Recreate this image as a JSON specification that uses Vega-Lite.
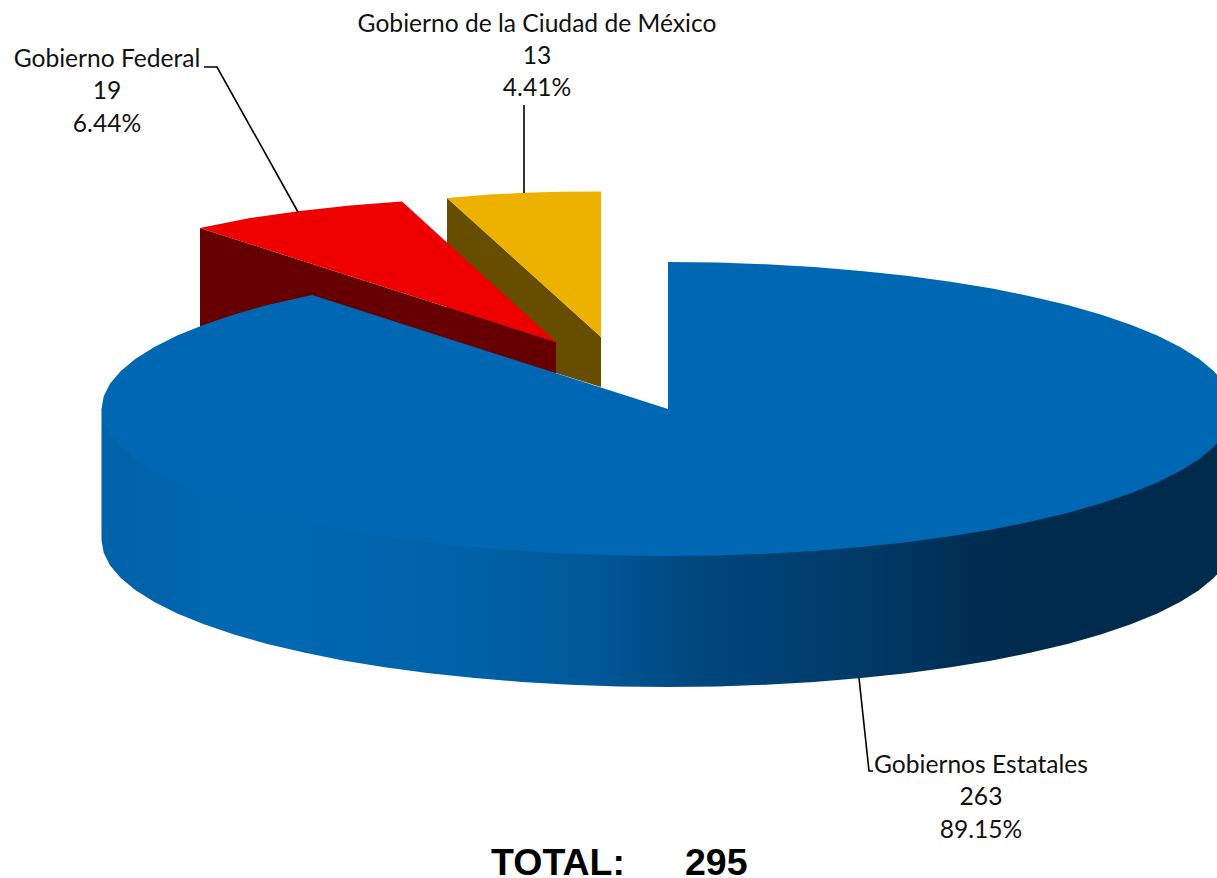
{
"$schema":"https://vega.github.io/schema/vega-lite/v6.json",
"width":1217,"height":878,"padding":0,"autosize":{"type":"none"},
"background":"white",
"config":{"view":{"stroke":null}},
"datasets":{
"yellowSide":[{"x":447,"y":198},{"x":601,"y":337},{"x":601,"y":387},{"x":556,"y":373},{"x":447,"y":340}],
"yellowTop":[{"x":447,"y":198},{"x":490,"y":194.5},{"x":525,"y":192.8},{"x":560,"y":191.8},{"x":601,"y":191.5},{"x":601,"y":337}],
"redSide":[{"x":200,"y":228},{"x":556,"y":342},{"x":556,"y":373},{"x":200,"y":330}],
"redTop":[{"x":200,"y":228},{"x":250,"y":218},{"x":300,"y":211},{"x":350,"y":205.5},{"x":402,"y":201.5},{"x":556,"y":342}],
"blueSide":[{"x":1233,"y":409},{"x":101.5,"y":409},{"x":101.5,"y":540},{"x":103.7,"y":552.8},{"x":110.1,"y":565.5},{"x":120.8,"y":578},{"x":135.6,"y":590.3},{"x":154.4,"y":602.1},{"x":177.2,"y":613.5},{"x":204,"y":624.3},{"x":234,"y":634.5},{"x":267.3,"y":643.9},{"x":304,"y":652.6},{"x":343.1,"y":660.4},{"x":384.7,"y":667.3},{"x":429.2,"y":673.2},{"x":474.8,"y":678.1},{"x":521.8,"y":682},{"x":569.9,"y":684.8},{"x":618.8,"y":686.4},{"x":668,"y":687},{"x":717.2,"y":686.4},{"x":766.1,"y":684.8},{"x":814.2,"y":682},{"x":861.2,"y":678.1},{"x":906.8,"y":673.2},{"x":950.5,"y":667.3},{"x":992.1,"y":660.4},{"x":1031.2,"y":652.6},{"x":1067.5,"y":643.9},{"x":1100.8,"y":634.5},{"x":1130.8,"y":624.3},{"x":1157.3,"y":613.5},{"x":1180.1,"y":602.1},{"x":1198.9,"y":590.3},{"x":1213.7,"y":578},{"x":1224.4,"y":565.5},{"x":1230.8,"y":552.8},{"x":1233,"y":540}],
"blueTop":[{"x":668,"y":262},{"x":717.2,"y":262.6},{"x":766.1,"y":264.2},{"x":814.2,"y":267},{"x":861.2,"y":270.9},{"x":906.8,"y":275.8},{"x":950.5,"y":281.7},{"x":992.1,"y":288.6},{"x":1031.2,"y":296.4},{"x":1067.5,"y":305.1},{"x":1100.8,"y":314.5},{"x":1130.8,"y":324.7},{"x":1157.3,"y":335.5},{"x":1180.1,"y":346.9},{"x":1198.9,"y":358.7},{"x":1213.7,"y":371},{"x":1224.4,"y":383.5},{"x":1230.8,"y":396.2},{"x":1233,"y":409},{"x":1230.8,"y":421.8},{"x":1224.4,"y":434.5},{"x":1213.7,"y":447},{"x":1198.9,"y":459.3},{"x":1180.1,"y":471.1},{"x":1157.3,"y":482.5},{"x":1130.8,"y":493.3},{"x":1100.8,"y":503.5},{"x":1067.5,"y":512.9},{"x":1031.2,"y":521.6},{"x":992.1,"y":529.4},{"x":950.5,"y":536.3},{"x":906.8,"y":542.2},{"x":861.2,"y":547.1},{"x":814.2,"y":551},{"x":766.1,"y":553.8},{"x":717.2,"y":555.4},{"x":668,"y":556},{"x":618.8,"y":555.4},{"x":569.9,"y":553.8},{"x":521.8,"y":551},{"x":474.8,"y":547.1},{"x":429.2,"y":542.2},{"x":384.7,"y":536.3},{"x":343.1,"y":529.4},{"x":304,"y":521.6},{"x":267.3,"y":512.9},{"x":234,"y":503.5},{"x":204,"y":493.3},{"x":177.2,"y":482.5},{"x":154.4,"y":471.1},{"x":135.6,"y":459.3},{"x":120.8,"y":447},{"x":110.1,"y":434.5},{"x":103.7,"y":421.8},{"x":101.5,"y":409},{"x":103.7,"y":396.2},{"x":110.1,"y":383.5},{"x":120.8,"y":371},{"x":135.6,"y":358.7},{"x":154.4,"y":346.9},{"x":177.2,"y":335.5},{"x":204,"y":324.7},{"x":234,"y":314.5},{"x":267.3,"y":305.1},{"x":312,"y":295},{"x":668,"y":409}],
"leaders":[{"sector":"Gobierno Federal","i":0,"x":204,"y":67},{"sector":"Gobierno Federal","i":1,"x":217,"y":67},{"sector":"Gobierno Federal","i":2,"x":298,"y":212},{"sector":"Gobierno de la Ciudad de México","i":0,"x":524,"y":105},{"sector":"Gobierno de la Ciudad de México","i":1,"x":524,"y":193},{"sector":"Gobiernos Estatales","i":0,"x":859,"y":678},{"sector":"Gobiernos Estatales","i":1,"x":869,"y":771},{"sector":"Gobiernos Estatales","i":2,"x":873,"y":771}],
"labels":[{"t":"Gobierno Federal","x":107,"y":60},{"t":"19","x":107,"y":92},{"t":"6.44%","x":107,"y":125},{"t":"Gobierno de la Ciudad de México","x":537,"y":25},{"t":"13","x":537,"y":57},{"t":"4.41%","x":537,"y":89},{"t":"Gobiernos Estatales","x":981,"y":766},{"t":"263","x":981,"y":798},{"t":"89.15%","x":981,"y":831}],
"totals":[{"t":"TOTAL:","x":491,"y":875},{"t":"295","x":685,"y":875}]
},
"encoding":{
"x":{"field":"x","type":"quantitative","axis":null,"scale":{"domain":[0,1217],"nice":false,"zero":false}},
"y":{"field":"y","type":"quantitative","axis":null,"scale":{"domain":[878,0],"nice":false,"zero":false}}
},
"layer":[
{"data":{"name":"yellowSide"},"mark":{"type":"line","order":false,"fill":"#664d00","strokeWidth":0}},
{"data":{"name":"yellowTop"},"mark":{"type":"line","order":false,"fill":"#edb200","strokeWidth":0}},
{"data":{"name":"redSide"},"mark":{"type":"line","order":false,"fill":"#660000","strokeWidth":0}},
{"data":{"name":"redTop"},"mark":{"type":"line","order":false,"fill":"#ee0000","strokeWidth":0}},
{"data":{"name":"blueSide"},"mark":{"type":"line","order":false,"strokeWidth":0,"fill":{"gradient":"linear","x1":0,"y1":0,"x2":1,"y2":0,"stops":[{"offset":0,"color":"#0062a8"},{"offset":0.1,"color":"#0067b1"},{"offset":0.22,"color":"#0066b0"},{"offset":0.33,"color":"#0061a6"},{"offset":0.44,"color":"#005798"},{"offset":0.52,"color":"#00487f"},{"offset":0.66,"color":"#003b69"},{"offset":0.8,"color":"#002b4d"},{"offset":1,"color":"#002b4d"}]}}},
{"data":{"name":"blueTop"},"mark":{"type":"line","order":false,"fill":"#0068b3","strokeWidth":0}},
{"data":{"name":"leaders"},"mark":{"type":"line","color":"black","strokeWidth":1.6},"encoding":{"detail":{"field":"sector"},"order":{"field":"i"}}},
{"data":{"name":"labels"},"mark":{"type":"text","font":"Lato","fontSize":24.6,"color":"#111111","align":"center","baseline":"middle"},"encoding":{"text":{"field":"t"}}},
{"data":{"name":"totals"},"mark":{"type":"text","font":"Liberation Sans","fontWeight":"bold","fontSize":37.5,"color":"black","align":"left","baseline":"alphabetic"},"encoding":{"text":{"field":"t"}}}
]
}
